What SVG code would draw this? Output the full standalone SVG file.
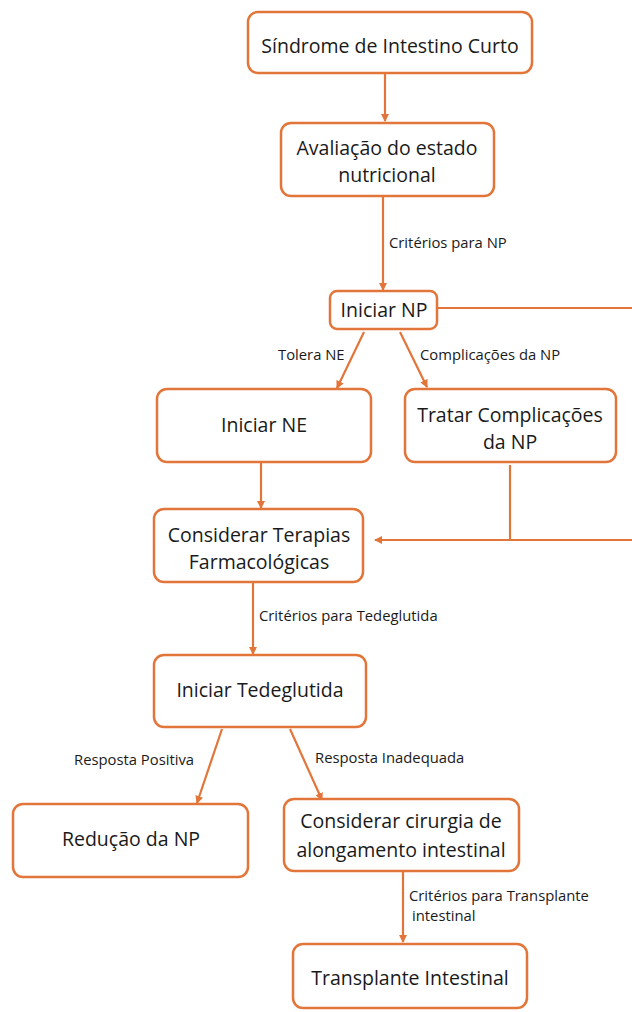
<svg xmlns="http://www.w3.org/2000/svg" width="632" height="1012" viewBox="0 0 632 1012">
<style>
.box{fill:#fff;stroke:#E2763A;stroke-width:2.5}
.t{font-family:"Open Sans","Liberation Sans",sans-serif;font-size:19.5px;fill:#1a1a1a;text-anchor:middle}
.l{font-family:"Open Sans","Liberation Sans",sans-serif;font-size:14.8px;fill:#1a1a1a}
.c{stroke:#E2763A;stroke-width:2.2;fill:none}
</style>
<defs>
<marker id="a" markerWidth="10" markerHeight="10" refX="7" refY="5" orient="auto" markerUnits="userSpaceOnUse">
<path d="M0,1 L8,5 L0,9 Z" fill="#E2763A"/>
</marker>
</defs>
<rect width="632" height="1012" fill="#fff"/>
<g id="connectors">
<line class="c" x1="385" y1="74" x2="385" y2="121" marker-end="url(#a)"/>
<line class="c" x1="383" y1="197" x2="383" y2="290" marker-end="url(#a)"/>
<line class="c" x1="437" y1="308" x2="632" y2="308"/>
<line class="c" x1="364" y1="332" x2="337" y2="388" marker-end="url(#a)"/>
<line class="c" x1="400" y1="332" x2="427" y2="387" marker-end="url(#a)"/>
<line class="c" x1="261" y1="463" x2="261" y2="508" marker-end="url(#a)"/>
<line class="c" x1="510" y1="465" x2="510" y2="540"/>
<line class="c" x1="632" y1="540" x2="375" y2="540" marker-end="url(#a)"/>
<line class="c" x1="253" y1="583" x2="253" y2="654" marker-end="url(#a)"/>
<line class="c" x1="222" y1="729" x2="197" y2="803" marker-end="url(#a)"/>
<line class="c" x1="290" y1="729" x2="322" y2="800" marker-end="url(#a)"/>
<line class="c" x1="403" y1="872" x2="403" y2="942" marker-end="url(#a)"/>
<text class="l" x="389" y="248">Critérios para NP</text>
<text class="l" x="278" y="360">Tolera NE</text>
<text class="l" x="420" y="360">Complicações da NP</text>
<text class="l" x="259" y="621">Critérios para Tedeglutida</text>
<text class="l" x="74" y="765">Resposta Positiva</text>
<text class="l" x="315" y="763">Resposta Inadequada</text>
<text class="l" x="409" y="901">Critérios para Transplante</text>
<text class="l" x="412" y="921">intestinal</text>
</g>
<g id="n1"><rect class="box" x="248" y="12" width="284" height="61" rx="10"/><text class="t" x="390" y="53">Síndrome de Intestino Curto</text></g>
<g id="n2"><rect class="box" x="281" y="123" width="213" height="73" rx="10"/><text class="t" x="387" y="155">Avaliação do estado</text><text class="t" x="387" y="182">nutricional</text></g>
<g id="n3"><rect class="box" x="330" y="291" width="107" height="38" rx="7"/><text class="t" x="384" y="317">Iniciar NP</text></g>
<g id="n4"><rect class="box" x="157" y="389" width="214" height="73" rx="10"/><text class="t" x="264" y="432">Iniciar NE</text></g>
<g id="n5"><rect class="box" x="405" y="389" width="211" height="73" rx="10"/><text class="t" x="510" y="422">Tratar Complicações</text><text class="t" x="510" y="449">da NP</text></g>
<g id="n6"><rect class="box" x="154" y="509" width="209" height="73" rx="10"/><text class="t" x="259" y="542">Considerar Terapias</text><text class="t" x="259" y="569">Farmacológicas</text></g>
<g id="n7"><rect class="box" x="154" y="655" width="212" height="72" rx="10"/><text class="t" x="260" y="697">Iniciar Tedeglutida</text></g>
<g id="n8"><rect class="box" x="13" y="804" width="235" height="73" rx="10"/><text class="t" x="131" y="846">Redução da NP</text></g>
<g id="n9"><rect class="box" x="284" y="799" width="235" height="72" rx="10"/><text class="t" x="401" y="828">Considerar cirurgia de</text><text class="t" x="401" y="857">alongamento intestinal</text></g>
<g id="n10"><rect class="box" x="293" y="944" width="234" height="64" rx="10"/><text class="t" x="410" y="985">Transplante Intestinal</text></g>
</svg>
